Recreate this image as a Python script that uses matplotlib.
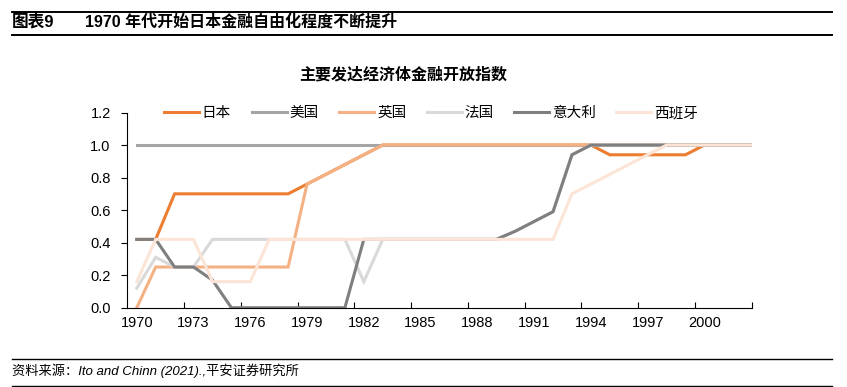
import numpy as np
import matplotlib.pyplot as plt
from matplotlib.lines import Line2D

plt.rcParams['font.family'] = ['Liberation Sans', 'Noto Sans CJK SC']

# Data (1970-2002, last point repeats to reach the axis edge)
years = list(range(1970, 2004))
japan = [0.42, 0.42, 0.70, 0.70, 0.70, 0.70, 0.70, 0.70, 0.70, 0.76,
         0.82, 0.88, 0.94, 1.00, 1.00, 1.00, 1.00, 1.00, 1.00, 1.00,
         1.00, 1.00, 1.00, 1.00, 1.00, 0.94, 0.94, 0.94, 0.94, 0.94,
         1.00, 1.00, 1.00, 1.00]
usa = [1.00] * 34
uk = [0.00, 0.25, 0.25, 0.25, 0.25, 0.25, 0.25, 0.25, 0.25, 0.76,
      0.82, 0.88, 0.94, 1.00, 1.00, 1.00, 1.00, 1.00, 1.00, 1.00,
      1.00, 1.00, 1.00, 1.00, 1.00, 1.00, 1.00, 1.00, 1.00, 1.00,
      1.00, 1.00, 1.00, 1.00]
italy = [0.42, 0.42, 0.25, 0.25, 0.17, 0.00, 0.00, 0.00, 0.00, 0.00,
         0.00, 0.00, 0.42, 0.42, 0.42, 0.42, 0.42, 0.42, 0.42, 0.42,
         0.47, 0.53, 0.59, 0.94, 1.00, 1.00, 1.00, 1.00, 1.00, 1.00,
         1.00, 1.00, 1.00, 1.00]
france = [0.12, 0.31, 0.25, 0.25, 0.42, 0.42, 0.42, 0.42, 0.42, 0.42,
          0.42, 0.42, 0.16, 0.42, 0.42, 0.42, 0.42, 0.42, 0.42, 0.42,
          0.47, 0.53, 0.59, 0.94, 1.00, 1.00, 1.00, 1.00, 1.00, 1.00,
          1.00, 1.00, 1.00, 1.00]
spain = [0.16, 0.42, 0.42, 0.42, 0.16, 0.16, 0.16, 0.42, 0.42, 0.42,
         0.42, 0.42, 0.42, 0.42, 0.42, 0.42, 0.42, 0.42, 0.42, 0.42,
         0.42, 0.42, 0.42, 0.70, 0.76, 0.82, 0.88, 0.94, 1.00, 1.00,
         1.00, 1.00, 1.00, 1.00]

labels = ["日本", "美国", "英国", "法国", "意大利", "西班牙"]
colors = ["#ED7D31", "#A5A5A5", "#F4B183", "#D9D9D9", "#7F7F7F", "#FCE4D6"]
series = [japan, usa, uk, france, italy, spain]

fig = plt.figure(figsize=(8.47, 3.87), dpi=100)
ax = fig.add_axes([0.1503, 0.2049, 0.7372, 0.5044])

x = np.arange(len(years))
for vals, col, lab in zip(series, colors, labels):
    ax.plot(x, vals, color=col, linewidth=2.2, label=lab, solid_joinstyle="miter")

ax.set_xlim(-0.5, 32.5)
ax.set_ylim(0, 1.2)

# category ticks on boundaries every 3 years, labels centred on categories
ax.set_xticks(np.arange(2.5, 32.6, 3))
ax.set_xticklabels([])
ax.set_xticks(np.arange(0, 33, 3), minor=True)
ax.set_xticklabels([str(years[i]) for i in range(0, 33, 3)], minor=True)
ax.tick_params(axis="x", which="major", direction="in", length=4, width=0.8)
ax.tick_params(axis="x", which="minor", length=0, labelsize=10.5, pad=6)

ax.set_yticks(np.arange(0, 1.21, 0.2))
ax.set_yticklabels([f"{v:.1f}" for v in np.arange(0, 1.21, 0.2)])
ax.tick_params(axis="y", direction="out", length=4, width=0.8, labelsize=10.5, pad=8)

for s in ["top", "right"]:
    ax.spines[s].set_visible(False)
for s in ["left", "bottom"]:
    ax.spines[s].set_linewidth(0.8)

fig.legend(loc="center", bbox_to_anchor=(0.509, 0.708), ncol=6, frameon=False,
           fontsize=10.5, handlelength=2.4, handletextpad=0.2, columnspacing=1.4)

fig.text(0.476, 0.806, "主要发达经济体金融开放指数", ha="center", va="center",
         fontsize=11.5, fontweight="bold")

# header and footer
fig.text(0.014, 0.943, "图表9", ha="left", va="center", fontsize=12, fontweight="bold")
fig.text(0.1, 0.943, "1970 年代开始日本金融自由化程度不断提升", ha="left", va="center",
         fontsize=11.5, fontweight="bold")
fig.add_artist(Line2D([0.014, 0.982], [1 - 12.3 / 387, 1 - 12.3 / 387], color="black", lw=1.4))
fig.add_artist(Line2D([0.014, 0.982], [1 - 35 / 387, 1 - 35 / 387], color="black", lw=1.4))

fig.text(0.014, 1 - 371 / 387, "资料来源：Ito and Chinn (2021).,平安证券研究所", ha="left",
         va="center", fontsize=9.5, style="italic")
fig.add_artist(Line2D([0.014, 0.982], [1 - 358.5 / 387, 1 - 358.5 / 387], color="black", lw=1.0))
fig.add_artist(Line2D([0.014, 0.982], [1 - 385.5 / 387, 1 - 385.5 / 387], color="black", lw=1.0))

fig.savefig("out.png", dpi=100)
